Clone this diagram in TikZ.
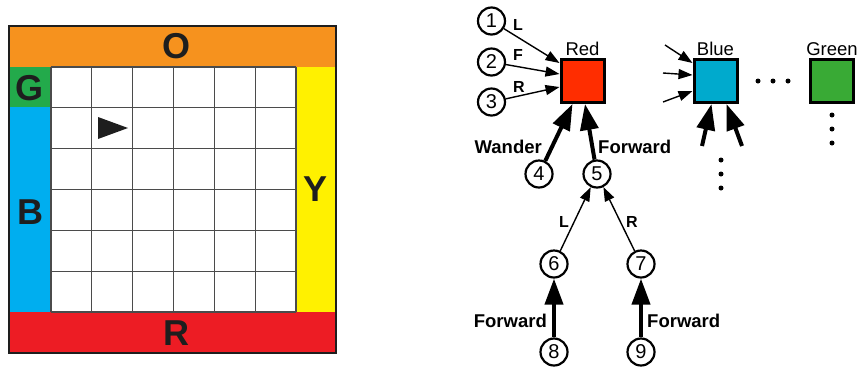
\documentclass[tikz,border=0pt]{standalone}
\usepackage{fontspec}
\setmainfont{Liberation Sans}
\usetikzlibrary{arrows.meta}

\definecolor{wallorange}{RGB}{246,146,30}
\definecolor{wallred}{RGB}{237,28,36}
\definecolor{wallgreen}{RGB}{35,170,75}
\definecolor{wallblue}{RGB}{0,174,239}
\definecolor{wallyellow}{RGB}{255,241,0}
\definecolor{boxred}{RGB}{255,45,0}
\definecolor{boxblue}{RGB}{0,170,205}
\definecolor{boxgreen}{RGB}{57,170,53}
\definecolor{ink}{RGB}{30,30,30}

\tikzset{
  wallletter/.style={font=\fontsize{36}{36}\selectfont\bfseries, text=ink},
  gridline/.style={draw=ink!80, line width=1.1pt},
  state/.style={circle, draw=black, line width=2.2pt, fill=white, minimum size=27pt,
                inner sep=0pt, font=\fontsize{20}{20}\selectfont},
  colourbox/.style={draw=black, line width=3pt, minimum size=43pt, inner sep=0pt},
  boxlabel/.style={font=\fontsize{18.5}{18.5}\selectfont, inner sep=2pt},
  edgelabel/.style={font=\fontsize{18.5}{18.5}\selectfont\bfseries, inner sep=1pt},
  smalllabel/.style={font=\fontsize{16}{16}\selectfont\bfseries, inner sep=0pt},
  thinarrow/.style={line width=1.4pt, -{Triangle[length=14pt,width=10pt]}},
  thickarrow/.style={line width=4pt, -{Triangle[length=26pt,width=18pt]}},
  dot/.style={circle, fill=black, inner sep=0pt, minimum size=5pt},
}

\begin{document}
\begin{tikzpicture}[x=1pt, y=-1pt]
\useasboundingbox (0,0) rectangle (859,368);

% ---- the arena: coloured walls around a 6x6 grid ----
\fill[wallorange] (9,26) rectangle (336,67);
\fill[wallred] (9,312) rectangle (336,353);
\fill[wallgreen] (9,67) rectangle (51,107);
\fill[wallblue] (9,107) rectangle (51,312);
\fill[wallyellow] (296,67) rectangle (336,312);
\fill[white] (51,67) rectangle (296,312);
\foreach \i in {0,...,6} {
  \draw[gridline] ({51+\i*40.83},67) -- ({51+\i*40.83},312);
  \draw[gridline] (51,{67+\i*40.83}) -- (296,{67+\i*40.83});
}
\draw[ink, line width=2pt] (9,26) rectangle (336,353);
\fill[ink] (98,117) -- (98,139) -- (128,128) -- cycle;

\node[wallletter] (lo) at (176,46) {O};
\node[wallletter] (lr) at (176,333) {R};
\node[wallletter] (lg) at (30,88) {G};
\node[wallletter] (lb) at (30,212) {B};
\node[wallletter] (ly) at (316,189) {Y};

% ---- colour boxes ----
\node[colourbox, fill=boxred] (red) at (582.5,81) {};
\node[colourbox, fill=boxblue] (blue) at (715.5,81) {};
\node[colourbox, fill=boxgreen] (green) at (832,81) {};
\node[boxlabel, anchor=south] (redlbl) at (red.north) {Red};
\node[boxlabel, anchor=south] (bluelbl) at (blue.north) {Blue};
\node[boxlabel, anchor=south] (greenlbl) at (green.north) {Green};

% ---- states ----
\node[state] (c1) at (491.5,21) {1};
\node[state] (c2) at (491.5,62) {2};
\node[state] (c3) at (491.5,102) {3};
\node[state] (c4) at (539,174) {4};
\node[state] (c5) at (597,174) {5};
\node[state] (c6) at (554,264) {6};
\node[state] (c7) at (641,264) {7};
\node[state] (c8) at (554,352) {8};
\node[state] (c9) at (641,352) {9};

% ---- links into Red ----
\draw[thinarrow] (c1) -- ([yshift=18pt]red.west);
\draw[thinarrow] (c2) -- ([yshift=7pt]red.west);
\draw[thinarrow] (c3) -- ([yshift=-6pt]red.west);
\node[smalllabel] (ll) at (518,25) {L};
\node[smalllabel] (lf) at (518,55) {F};
\node[smalllabel] (lrr) at (519,87) {R};

\draw[thickarrow] (c4) -- ([xshift=-10pt]red.south);
\draw[thickarrow] (c5) -- ([xshift=2.5pt]red.south);
\node[edgelabel, anchor=east] (wander) at (543,147) {Wander};
\node[edgelabel, anchor=west] (fwd5) at (597,147) {Forward};

% ---- lower tree ----
\draw[thinarrow] (c6) -- (c5);
\draw[thinarrow] (c7) -- (c5);
\node[smalllabel] (l6) at (564,222) {L};
\node[smalllabel] (r7) at (632,222) {R};

\draw[thickarrow] (c8) -- (c6);
\draw[thickarrow] (c9) -- (c7);
\node[edgelabel, anchor=east] (fwd8) at (548,321) {Forward};
\node[edgelabel, anchor=west] (fwd9) at (646,321) {Forward};

% ---- links into Blue ----
\coordinate (b1) at (665,45);
\coordinate (b2) at (663,73);
\coordinate (b3) at (663,102);
\draw[thinarrow] (b1) -- ([yshift=18pt]blue.west);
\draw[thinarrow] (b2) -- ([yshift=6pt]blue.west);
\draw[thinarrow] (b3) -- ([yshift=-10pt]blue.west);
\coordinate (b4) at (702,146);
\coordinate (b5) at (742,146);
\draw[thickarrow] (b4) -- ([xshift=-4pt]blue.south);
\draw[thickarrow] (b5) -- ([xshift=11pt]blue.south);

% ---- ellipses ----
\foreach \x [count=\k] in {758,773,788} \node[dot] (hd\k) at (\x,81) {};
\foreach \y [count=\k] in {115,129,143} \node[dot] (gd\k) at (832,\y) {};
\foreach \y [count=\k] in {160,174,188} \node[dot] (bd\k) at (721,\y) {};
\end{tikzpicture}
\end{document}
